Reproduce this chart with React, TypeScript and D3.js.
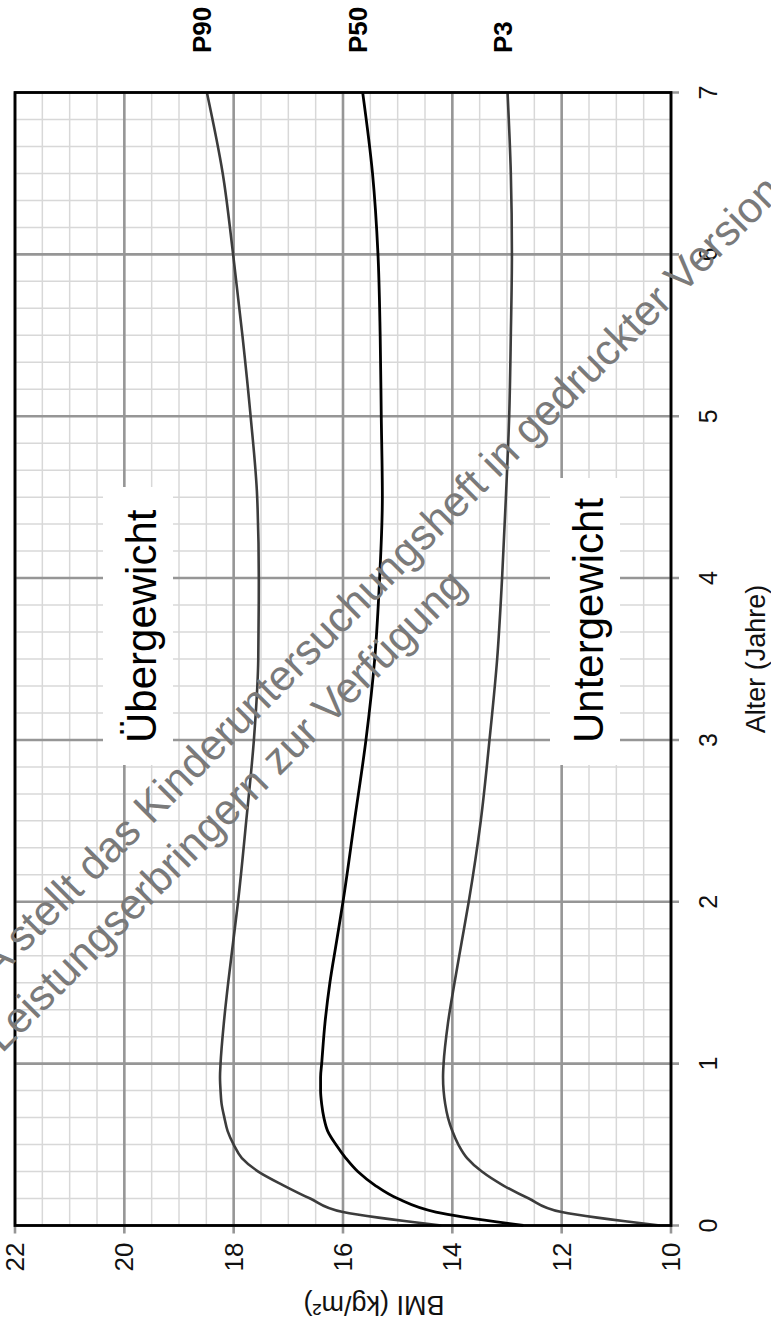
import React from 'react';
import * as d3 from 'd3';

// Age in months (vertical axis, upward), BMI values per percentile (horizontal axis, 22 on the left → 10 on the right)
const ageMonths = [0, 1, 2, 3, 4, 5, 6, 7, 8, 9, 10, 11, 12, 15, 18, 21, 24, 30, 36, 42, 48, 54, 60, 66, 72, 78, 84];
const p90 = [14.2, 16.0, 16.6, 17.1, 17.55, 17.85, 18.0, 18.11, 18.17, 18.22, 18.24, 18.25, 18.24, 18.18, 18.1, 18.01, 17.92, 17.77, 17.63, 17.55, 17.54, 17.57, 17.69, 17.84, 18.01, 18.2, 18.49];
const p50 = [12.7, 14.3, 15.0, 15.42, 15.73, 15.95, 16.13, 16.28, 16.35, 16.39, 16.41, 16.41, 16.39, 16.33, 16.24, 16.12, 16.0, 15.79, 15.58, 15.42, 15.33, 15.28, 15.3, 15.32, 15.36, 15.46, 15.64];
const p3 = [10.2, 12.0, 12.6, 13.08, 13.46, 13.73, 13.89, 14.0, 14.08, 14.13, 14.16, 14.17, 14.16, 14.08, 13.96, 13.83, 13.7, 13.48, 13.32, 13.18, 13.09, 13.02, 12.96, 12.93, 12.91, 12.93, 12.99];

const ageTicks = [0, 1, 2, 3, 4, 5, 6, 7];
const bmiTicks = [22, 20, 18, 16, 14, 12, 10];
const seriesNames = ['P90', 'P50', 'P3'];

const W = 771;
const H = 1328;
const FONT = '"Liberation Sans", Arial, Helvetica, sans-serif';

export default function App() {
  const left = 15, right = 671, top = 92.5, bottom = 1225.5;
  const x = d3.scaleLinear().domain([22, 10]).range([left, right]);
  const y = d3.scaleLinear().domain([0, 7]).range([bottom, top]);

  const minorAges = d3.range(0, 7 * 6 + 1).map((i) => i / 6);
  const minorBmi = d3.range(0, 25).map((i) => 10 + i * 0.5);

  const series = [
    { name: seriesNames[0], values: p90, color: '#3c3c3c', width: 2.6 },
    { name: seriesNames[1], values: p50, color: '#000000', width: 2.8 },
    { name: seriesNames[2], values: p3, color: '#3c3c3c', width: 2.6 },
  ];

  const line = d3
    .line<[number, number]>()
    .x((d) => x(d[1]))
    .y((d) => y(d[0] / 12))
    .curve(d3.curveMonotoneY);

  const ext = 8;
  const majorColor = '#969696';
  const minorColor = '#d8d8d8';

  // watermark geometry
  const wm1x = -58, wm1y = 1035;
  const wm2x = 2, wm2y = 1054;

  return (
    <svg
      width={W}
      height={H}
      viewBox={`0 0 ${W} ${H}`}
      style={{ position: 'absolute', left: 0, top: 0, background: '#fff' }}
      fontFamily={FONT}
    >
      <rect x={0} y={0} width={W} height={H} fill="#fff" />
      {/* minor grid */}
      {minorAges.map((a, i) => (
        <line key={'ma' + i} x1={left} x2={right} y1={y(a)} y2={y(a)} stroke={minorColor} strokeWidth={1.5} />
      ))}
      {minorBmi.map((b, i) => (
        <line key={'mb' + i} x1={x(b)} x2={x(b)} y1={top} y2={bottom} stroke={minorColor} strokeWidth={1.5} />
      ))}
      {/* major grid with outside ticks */}
      {ageTicks.map((a) => (
        <line key={'Ma' + a} x1={left} x2={right + ext} y1={y(a)} y2={y(a)} stroke={majorColor} strokeWidth={2.6} />
      ))}
      {bmiTicks.map((b) => (
        <line key={'Mb' + b} x1={x(b)} x2={x(b)} y1={top} y2={bottom + ext} stroke={majorColor} strokeWidth={2.6} />
      ))}

      {/* white boxes behind labels */}
      <rect x={103} y={487} width={70} height={278} fill="#fff" />
      <rect x={550} y={478} width={70} height={287} fill="#fff" />
      <text x={156} y={743} transform="rotate(-90 156 743)" fontSize={42} fill="#000">
        Übergewicht
      </text>
      <text x={603} y={743} transform="rotate(-90 603 743)" fontSize={42} fill="#000">
        Untergewicht
      </text>

      {/* curves */}
      {series.map((s) => (
        <path
          key={s.name}
          d={line(ageMonths.map((m, i) => [m, s.values[i]] as [number, number])) || ''}
          fill="none"
          stroke={s.color}
          strokeWidth={s.width}
          strokeLinejoin="round"
        />
      ))}

      {/* plot border */}
      <rect x={left} y={top} width={right - left} height={bottom - top} fill="none" stroke="#000" strokeWidth={2.8} />

      {/* percentile labels */}
      {series.map((s) => {
        const lx = x(s.values[s.values.length - 1]) - 5;
        const ly = 53;
        return (
          <text
            key={'l' + s.name}
            x={lx}
            y={ly}
            transform={`rotate(-90 ${lx} ${ly})`}
            fontSize={26}
            fontWeight="bold"
            dominantBaseline="central"
            fill="#000"
          >
            {s.name}
          </text>
        );
      })}

      {/* age tick labels */}
      {ageTicks.map((a) => {
        const tx = 708;
        const ty = y(a);
        return (
          <text
            key={'ta' + a}
            x={tx}
            y={ty}
            transform={`rotate(-90 ${tx} ${ty})`}
            fontSize={25}
            textAnchor="middle"
            dominantBaseline="central"
            fill="#111"
          >
            {a}
          </text>
        );
      })}
      <text
        x={756}
        y={y(3.5)}
        transform={`rotate(-90 756 ${y(3.5)})`}
        fontSize={27}
        textAnchor="middle"
        dominantBaseline="central"
        fill="#111"
      >
        Alter (Jahre)
      </text>

      {/* BMI tick labels */}
      {bmiTicks.map((b) => {
        const tx = x(b);
        const ty = 1257;
        return (
          <text
            key={'tb' + b}
            x={tx}
            y={ty}
            transform={`rotate(-90 ${tx} ${ty})`}
            fontSize={26}
            textAnchor="middle"
            dominantBaseline="central"
            fill="#111"
          >
            {b}
          </text>
        );
      })}
      <text
        x={374}
        y={1305}
        transform="rotate(180 374 1305)"
        fontSize={27}
        textAnchor="middle"
        dominantBaseline="central"
        fill="#111"
      >
        BMI (kg/m²)
      </text>

      {/* watermark */}
      <g fill="#7a7a7a" fontSize={43}>
        <text x={wm1x} y={wm1y} transform={`rotate(-45 ${wm1x} ${wm1y})`}>
          G-BA stellt das Kinderuntersuchungsheft in gedruckter Version den
        </text>
        <text x={wm2x} y={wm2y} transform={`rotate(-45 ${wm2x} ${wm2y})`}>
          Leistungserbringern zur Verfügung
        </text>
      </g>
    </svg>
  );
}
